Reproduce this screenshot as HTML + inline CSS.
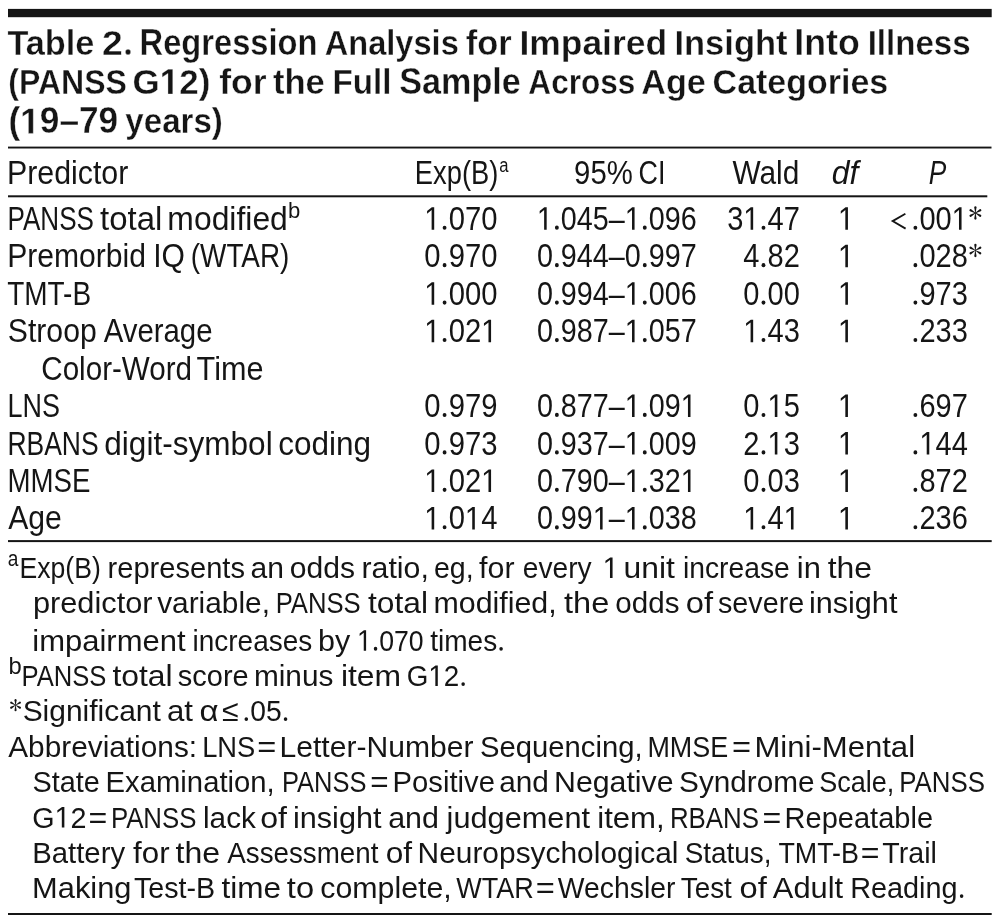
<!DOCTYPE html>
<html><head><meta charset="utf-8"><style>
html,body{margin:0;padding:0;background:#fff;}
body{width:999px;height:924px;overflow:hidden;}
svg{display:block;will-change:transform;}
text{font-family:"Liberation Sans",sans-serif;fill:#151515;}
</style></head><body>
<svg width="999" height="924" viewBox="0 0 999 924">
<rect x="8.0" y="8.9" width="983.70" height="8.30" fill="#151515"/>
<rect x="8.0" y="146.6" width="983.50" height="1.90" fill="#151515"/>
<rect x="8.0" y="195.3" width="979.30" height="2.00" fill="#151515"/>
<rect x="8.0" y="540.1" width="983.70" height="2.00" fill="#151515"/>
<rect x="8.0" y="913.0" width="983.70" height="2.00" fill="#151515"/>
<text transform="translate(7.40 54.80) scale(0.9527 1)" font-size="36.0" font-weight="bold" stroke="#fff" stroke-width="0.35">Table</text>
<g transform="translate(102.12 54.80) scale(1.0369 1)"><text font-size="36.0" font-weight="bold" stroke="#fff" stroke-width="0.35">2 </text><path transform="scale(0.017578 -0.017578)" fill="#151515" stroke="#fff" stroke-width="19.9" d="M1275.6,160 a146.6,160 0 1 0 293.2,0 a146.6,160 0 1 0 -293.2,0 Z"/></g>
<text transform="translate(139.59 54.80) scale(0.9072 1)" font-size="36.0" font-weight="bold" stroke="#fff" stroke-width="0.35">Regression</text>
<text transform="translate(324.72 54.80) scale(0.9055 1)" font-size="36.0" font-weight="bold" stroke="#fff" stroke-width="0.35">Analysis</text>
<text transform="translate(465.70 54.80) scale(0.9576 1)" font-size="36.0" font-weight="bold" stroke="#fff" stroke-width="0.35">for</text>
<text transform="translate(519.38 54.80) scale(0.9846 1)" font-size="36.0" font-weight="bold" stroke="#fff" stroke-width="0.35">Impaired</text>
<text transform="translate(674.45 54.80) scale(0.9587 1)" font-size="36.0" font-weight="bold" stroke="#fff" stroke-width="0.35">Insight</text>
<text transform="translate(794.36 54.80) scale(0.9925 1)" font-size="36.0" font-weight="bold" stroke="#fff" stroke-width="0.35">Into</text>
<text transform="translate(867.66 54.80) scale(0.9188 1)" font-size="36.0" font-weight="bold" stroke="#fff" stroke-width="0.35">Illness</text>
<text transform="translate(8.24 94.00) scale(0.8901 1)" font-size="36.0" font-weight="bold" stroke="#fff" stroke-width="0.35">(PANSS</text>
<g transform="translate(132.57 94.00) scale(0.9719 1)"><text font-size="36.0" font-weight="bold" stroke="#fff" stroke-width="0.35">G 2)</text><path transform="scale(0.017578 -0.017578)" fill="#151515" stroke="#fff" stroke-width="19.9" d="M2070.9,0 L2070.9,1170 L1732.9,959 L1732.9,1180 L2085.9,1409 L2351.9,1409 L2351.9,0 Z"/></g>
<text transform="translate(219.27 94.00) scale(0.9877 1)" font-size="36.0" font-weight="bold" stroke="#fff" stroke-width="0.35">for</text>
<text transform="translate(272.89 94.00) scale(0.9610 1)" font-size="36.0" font-weight="bold" stroke="#fff" stroke-width="0.35">the</text>
<text transform="translate(332.55 94.00) scale(0.9213 1)" font-size="36.0" font-weight="bold" stroke="#fff" stroke-width="0.35">Full</text>
<text transform="translate(399.15 94.00) scale(0.9501 1)" font-size="36.0" font-weight="bold" stroke="#fff" stroke-width="0.35">Sample</text>
<text transform="translate(528.37 94.00) scale(0.8763 1)" font-size="36.0" font-weight="bold" stroke="#fff" stroke-width="0.35">Across</text>
<text transform="translate(641.24 94.00) scale(0.9489 1)" font-size="36.0" font-weight="bold" stroke="#fff" stroke-width="0.35">Age</text>
<text transform="translate(712.62 94.00) scale(0.9440 1)" font-size="36.0" font-weight="bold" stroke="#fff" stroke-width="0.35">Categories</text>
<g transform="translate(8.47 133.40) scale(0.9788 1)"><text font-size="36.0" font-weight="bold" stroke="#fff" stroke-width="0.35">( 9–79</text><path transform="scale(0.017578 -0.017578)" fill="#151515" stroke="#fff" stroke-width="19.9" d="M1159.8,0 L1159.8,1170 L821.8,959 L821.8,1180 L1174.8,1409 L1440.8,1409 L1440.8,0 Z"/></g>
<text transform="translate(125.32 133.40) scale(0.9198 1)" font-size="36.0" font-weight="bold" stroke="#fff" stroke-width="0.35">years)</text>
<text transform="translate(7.01 184.00) scale(0.9306 1)" font-size="32.6">Predictor</text>
<text transform="translate(414.86 184.00) scale(0.8379 1)" font-size="32.6">Exp(B)</text>
<text transform="translate(499.17 171.80) scale(0.8535 1)" font-size="19.5">a</text>
<text transform="translate(574.08 184.00) scale(0.8996 1)" font-size="32.6">95%</text>
<text transform="translate(638.53 184.00) scale(0.8251 1)" font-size="32.6">CI</text>
<text transform="translate(732.43 184.00) scale(0.9163 1)" font-size="32.6">Wald</text>
<text transform="translate(831.81 184.00) scale(0.9783 1)" font-size="32.6" font-style="italic">df</text>
<text transform="translate(928.75 184.00) scale(0.8063 1)" font-size="32.6" font-style="italic">P</text>
<text transform="translate(7.46 229.80) scale(0.8005 1)" font-size="32.6">PANSS</text>
<text transform="translate(100.11 229.80) scale(1.0098 1)" font-size="32.6">total</text>
<text transform="translate(167.37 229.80) scale(0.9778 1)" font-size="32.6">modified</text>
<text transform="translate(288.00 217.80) scale(0.9835 1)" font-size="22.5">b</text>
<text transform="translate(7.13 267.25) scale(0.9237 1)" font-size="32.6">Premorbid</text>
<text transform="translate(153.23 267.25) scale(0.9218 1)" font-size="32.6">IQ</text>
<text transform="translate(190.78 267.25) scale(0.8555 1)" font-size="32.6">(WTAR)</text>
<text transform="translate(7.17 304.70) scale(0.8579 1)" font-size="32.6">TMT-B</text>
<text transform="translate(7.78 342.15) scale(0.9263 1)" font-size="32.6">Stroop</text>
<text transform="translate(103.66 342.15) scale(0.9014 1)" font-size="32.6">Average</text>
<text transform="translate(41.27 379.60) scale(0.9088 1)" font-size="32.6">Color-Word</text>
<text transform="translate(196.61 379.60) scale(0.9392 1)" font-size="32.6">Time</text>
<text transform="translate(7.59 417.05) scale(0.8268 1)" font-size="32.6">LNS</text>
<text transform="translate(7.43 454.50) scale(0.8127 1)" font-size="32.6">RBANS</text>
<text transform="translate(104.29 454.50) scale(0.9683 1)" font-size="32.6">digit-symbol</text>
<text transform="translate(278.27 454.50) scale(0.9670 1)" font-size="32.6">coding</text>
<text transform="translate(7.53 491.95) scale(0.8486 1)" font-size="32.6">MMSE</text>
<text transform="translate(8.24 529.40) scale(0.9246 1)" font-size="32.6">Age</text>
<text transform="translate(7.71 565.80) scale(0.8511 1)" font-size="22.5">a</text>
<text transform="translate(19.42 578.00) scale(0.8935 1)" font-size="29.8">Exp(B)</text>
<text transform="translate(107.58 578.00) scale(0.9765 1)" font-size="29.8">represents</text>
<text transform="translate(250.62 578.00) scale(1.0090 1)" font-size="29.8">an</text>
<text transform="translate(289.85 578.00) scale(1.0092 1)" font-size="29.8">odds</text>
<text transform="translate(361.50 578.00) scale(1.0171 1)" font-size="29.8">ratio,</text>
<text transform="translate(433.94 578.00) scale(0.9587 1)" font-size="29.8">eg,</text>
<text transform="translate(479.12 578.00) scale(1.0205 1)" font-size="29.8">for</text>
<text transform="translate(522.76 578.00) scale(0.9457 1)" font-size="29.8">every</text>
<g transform="translate(602.64 578.00) scale(0.9800 1)"><text font-size="29.8"> </text><path transform="scale(0.014551 -0.014551)" fill="#151515" d="M515.0,0 L515.0,1237 L197.0,1010 L197.0,1180 L530.0,1409 L696.0,1409 L696.0,0 Z"/></g>
<text transform="translate(623.51 578.00) scale(1.0687 1)" font-size="29.8">unit</text>
<text transform="translate(682.90 578.00) scale(0.9493 1)" font-size="29.8">increase</text>
<text transform="translate(796.83 578.00) scale(1.0365 1)" font-size="29.8">in</text>
<text transform="translate(827.63 578.00) scale(1.0721 1)" font-size="29.8">the</text>
<text transform="translate(32.94 612.70) scale(1.0315 1)" font-size="29.8">predictor</text>
<text transform="translate(157.16 612.70) scale(1.0017 1)" font-size="29.8">variable,</text>
<text transform="translate(275.66 612.70) scale(0.8606 1)" font-size="29.8">PANSS</text>
<text transform="translate(368.03 612.70) scale(1.0661 1)" font-size="29.8">total</text>
<text transform="translate(433.49 612.70) scale(1.0193 1)" font-size="29.8">modified,</text>
<text transform="translate(564.01 612.70) scale(1.0929 1)" font-size="29.8">the</text>
<text transform="translate(615.28 612.70) scale(0.9930 1)" font-size="29.8">odds</text>
<text transform="translate(685.79 612.70) scale(1.0994 1)" font-size="29.8">of</text>
<text transform="translate(717.97 612.70) scale(0.9645 1)" font-size="29.8">severe</text>
<text transform="translate(808.95 612.70) scale(1.0273 1)" font-size="29.8">insight</text>
<text transform="translate(32.32 650.70) scale(1.0401 1)" font-size="29.8">impairment</text>
<text transform="translate(192.52 650.70) scale(0.9391 1)" font-size="29.8">increases</text>
<text transform="translate(317.95 650.70) scale(1.0241 1)" font-size="29.8">by</text>
<g transform="translate(357.05 650.70) scale(0.8938 1)"><text font-size="29.8">  070</text><path transform="scale(0.014551 -0.014551)" fill="#151515" d="M515.0,0 L515.0,1237 L197.0,1010 L197.0,1180 L530.0,1409 L696.0,1409 L696.0,0 Z M1286.7,132 a136.1,128 0 1 0 272.1,0 a136.1,128 0 1 0 -272.1,0 Z"/></g>
<g transform="translate(430.14 650.70) scale(0.9419 1)"><text font-size="29.8">times </text><path transform="scale(0.014551 -0.014551)" fill="#151515" d="M5047.7,132 a129.1,128 0 1 0 258.2,0 a129.1,128 0 1 0 -258.2,0 Z"/></g>
<text transform="translate(8.40 673.70) scale(1.0117 1)" font-size="23.5">b</text>
<text transform="translate(21.50 686.00) scale(0.8597 1)" font-size="29.8">PANSS</text>
<text transform="translate(112.41 686.00) scale(1.0705 1)" font-size="29.8">total</text>
<text transform="translate(177.85 686.00) scale(0.9726 1)" font-size="29.8">score</text>
<text transform="translate(253.93 686.00) scale(1.0001 1)" font-size="29.8">minus</text>
<text transform="translate(340.88 686.00) scale(1.0705 1)" font-size="29.8">item</text>
<g transform="translate(406.70 686.00) scale(0.9338 1)"><text font-size="29.8">G 2 </text><path transform="scale(0.014551 -0.014551)" fill="#151515" d="M2107.5,0 L2107.5,1237 L1789.5,1010 L1789.5,1180 L2122.5,1409 L2288.5,1409 L2288.5,0 Z M4024.3,132 a130.2,128 0 1 0 260.4,0 a130.2,128 0 1 0 -260.4,0 Z"/></g>
<text transform="translate(22.64 721.00) scale(1.0050 1)" font-size="29.8">Significant</text>
<text transform="translate(166.95 721.00) scale(1.0470 1)" font-size="29.8">at</text>
<text transform="translate(199.55 721.00) scale(1.1072 1)" font-size="29.8">α</text>
<text transform="translate(222.03 721.00) scale(1.0166 1)" font-size="29.8">≤</text>
<g transform="translate(242.37 721.00) scale(0.9481 1)"><text font-size="29.8"> 05 </text><path transform="scale(0.014551 -0.014551)" fill="#151515" d="M156.2,132 a128.3,128 0 1 0 256.5,0 a128.3,128 0 1 0 -256.5,0 Z M3001.9,132 a128.3,128 0 1 0 256.5,0 a128.3,128 0 1 0 -256.5,0 Z"/></g>
<text transform="translate(8.18 757.00) scale(1.0009 1)" font-size="29.8">Abbreviations:</text>
<text transform="translate(202.16 757.00) scale(0.9165 1)" font-size="29.8">LNS</text>
<text transform="translate(257.18 757.00) scale(1.0953 1)" font-size="29.8">=</text>
<text transform="translate(279.53 757.00) scale(1.0094 1)" font-size="29.8">Letter-Number</text>
<text transform="translate(480.09 757.00) scale(0.9808 1)" font-size="29.8">Sequencing,</text>
<text transform="translate(647.39 757.00) scale(0.9043 1)" font-size="29.8">MMSE</text>
<text transform="translate(732.08 757.00) scale(1.0953 1)" font-size="29.8">=</text>
<text transform="translate(754.45 757.00) scale(1.0434 1)" font-size="29.8">Mini-Mental</text>
<text transform="translate(32.51 791.90) scale(0.9685 1)" font-size="29.8">State</text>
<text transform="translate(105.60 791.90) scale(0.9822 1)" font-size="29.8">Examination,</text>
<text transform="translate(281.91 791.90) scale(0.8555 1)" font-size="29.8">PANSS</text>
<text transform="translate(370.13 791.90) scale(1.0555 1)" font-size="29.8">=</text>
<text transform="translate(392.60 791.90) scale(0.9810 1)" font-size="29.8">Positive</text>
<text transform="translate(499.23 791.90) scale(0.9994 1)" font-size="29.8">and</text>
<text transform="translate(554.01 791.90) scale(1.0169 1)" font-size="29.8">Negative</text>
<text transform="translate(679.05 791.90) scale(0.9989 1)" font-size="29.8">Syndrome</text>
<text transform="translate(819.13 791.90) scale(0.9065 1)" font-size="29.8">Scale,</text>
<text transform="translate(899.28 791.90) scale(0.8671 1)" font-size="29.8">PANSS</text>
<g transform="translate(32.25 827.50) scale(0.9643 1)"><text font-size="29.8">G 2</text><path transform="scale(0.014551 -0.014551)" fill="#151515" d="M2107.5,0 L2107.5,1237 L1789.5,1010 L1789.5,1180 L2122.5,1409 L2288.5,1409 L2288.5,0 Z"/></g>
<text transform="translate(88.62 827.50) scale(1.0790 1)" font-size="29.8">=</text>
<text transform="translate(110.88 827.50) scale(0.8661 1)" font-size="29.8">PANSS</text>
<text transform="translate(203.01 827.50) scale(0.9972 1)" font-size="29.8">lack</text>
<text transform="translate(260.21 827.50) scale(1.0790 1)" font-size="29.8">of</text>
<text transform="translate(292.94 827.50) scale(1.0285 1)" font-size="29.8">insight</text>
<text transform="translate(388.19 827.50) scale(1.0211 1)" font-size="29.8">and</text>
<text transform="translate(446.62 827.50) scale(1.0308 1)" font-size="29.8">judgement</text>
<text transform="translate(597.21 827.50) scale(1.0461 1)" font-size="29.8">item,</text>
<text transform="translate(669.88 827.50) scale(0.8682 1)" font-size="29.8">RBANS</text>
<text transform="translate(762.42 827.50) scale(1.0790 1)" font-size="29.8">=</text>
<text transform="translate(784.62 827.50) scale(0.9737 1)" font-size="29.8">Repeatable</text>
<text transform="translate(32.20 862.70) scale(0.9838 1)" font-size="29.8">Battery</text>
<text transform="translate(133.10 862.70) scale(1.0505 1)" font-size="29.8">for</text>
<text transform="translate(175.60 862.70) scale(1.0758 1)" font-size="29.8">the</text>
<text transform="translate(227.23 862.70) scale(0.9319 1)" font-size="29.8">Assessment</text>
<text transform="translate(385.76 862.70) scale(1.0603 1)" font-size="29.8">of</text>
<text transform="translate(417.55 862.70) scale(1.0040 1)" font-size="29.8">Neuropsychological</text>
<text transform="translate(684.68 862.70) scale(0.9364 1)" font-size="29.8">Status,</text>
<text transform="translate(778.40 862.70) scale(0.9017 1)" font-size="29.8">TMT-B</text>
<text transform="translate(860.85 862.70) scale(1.0758 1)" font-size="29.8">=</text>
<text transform="translate(882.36 862.70) scale(0.9597 1)" font-size="29.8">Trail</text>
<text transform="translate(32.07 898.00) scale(1.0348 1)" font-size="29.8">Making</text>
<text transform="translate(133.96 898.00) scale(0.9619 1)" font-size="29.8">Test-B</text>
<text transform="translate(221.44 898.00) scale(1.0593 1)" font-size="29.8">time</text>
<text transform="translate(286.81 898.00) scale(1.0954 1)" font-size="29.8">to</text>
<text transform="translate(320.29 898.00) scale(1.0182 1)" font-size="29.8">complete,</text>
<text transform="translate(456.24 898.00) scale(0.9066 1)" font-size="29.8">WTAR</text>
<text transform="translate(535.78 898.00) scale(1.0954 1)" font-size="29.8">=</text>
<text transform="translate(557.80 898.00) scale(0.9515 1)" font-size="29.8">Wechsler</text>
<text transform="translate(680.77 898.00) scale(0.9345 1)" font-size="29.8">Test</text>
<text transform="translate(739.50 898.00) scale(1.0954 1)" font-size="29.8">of</text>
<text transform="translate(772.85 898.00) scale(1.0360 1)" font-size="29.8">Adult</text>
<g transform="translate(850.13 898.00) scale(0.9684 1)"><text font-size="29.8">Reading </text><path transform="scale(0.014551 -0.014551)" fill="#151515" d="M7786.3,132 a125.6,128 0 1 0 251.1,0 a125.6,128 0 1 0 -251.1,0 Z"/></g>
<g transform="translate(424.27 229.80) scale(0.8969 1)"><text font-size="32.6">  070</text><path transform="scale(0.015918 -0.015918)" fill="#151515" d="M515.0,0 L515.0,1237 L197.0,1010 L197.0,1180 L530.0,1409 L696.0,1409 L696.0,0 Z M1286.6,132 a135.6,128 0 1 0 271.2,0 a135.6,128 0 1 0 -271.2,0 Z"/></g>
<g transform="translate(424.27 267.25) scale(0.8969 1)"><text font-size="32.6">0 970</text><path transform="scale(0.015918 -0.015918)" fill="#151515" d="M1286.6,132 a135.6,128 0 1 0 271.2,0 a135.6,128 0 1 0 -271.2,0 Z"/></g>
<g transform="translate(424.27 304.70) scale(0.8969 1)"><text font-size="32.6">  000</text><path transform="scale(0.015918 -0.015918)" fill="#151515" d="M515.0,0 L515.0,1237 L197.0,1010 L197.0,1180 L530.0,1409 L696.0,1409 L696.0,0 Z M1286.6,132 a135.6,128 0 1 0 271.2,0 a135.6,128 0 1 0 -271.2,0 Z"/></g>
<g transform="translate(424.27 342.15) scale(0.8969 1)"><text font-size="32.6">  02 </text><path transform="scale(0.015918 -0.015918)" fill="#151515" d="M515.0,0 L515.0,1237 L197.0,1010 L197.0,1180 L530.0,1409 L696.0,1409 L696.0,0 Z M1286.6,132 a135.6,128 0 1 0 271.2,0 a135.6,128 0 1 0 -271.2,0 Z M4498.3,0 L4498.3,1237 L4180.3,1010 L4180.3,1180 L4513.3,1409 L4679.3,1409 L4679.3,0 Z"/></g>
<g transform="translate(424.27 417.05) scale(0.8969 1)"><text font-size="32.6">0 979</text><path transform="scale(0.015918 -0.015918)" fill="#151515" d="M1286.6,132 a135.6,128 0 1 0 271.2,0 a135.6,128 0 1 0 -271.2,0 Z"/></g>
<g transform="translate(424.27 454.50) scale(0.8969 1)"><text font-size="32.6">0 973</text><path transform="scale(0.015918 -0.015918)" fill="#151515" d="M1286.6,132 a135.6,128 0 1 0 271.2,0 a135.6,128 0 1 0 -271.2,0 Z"/></g>
<g transform="translate(424.27 491.95) scale(0.8969 1)"><text font-size="32.6">  02 </text><path transform="scale(0.015918 -0.015918)" fill="#151515" d="M515.0,0 L515.0,1237 L197.0,1010 L197.0,1180 L530.0,1409 L696.0,1409 L696.0,0 Z M1286.6,132 a135.6,128 0 1 0 271.2,0 a135.6,128 0 1 0 -271.2,0 Z M4498.3,0 L4498.3,1237 L4180.3,1010 L4180.3,1180 L4513.3,1409 L4679.3,1409 L4679.3,0 Z"/></g>
<g transform="translate(424.27 529.40) scale(0.8969 1)"><text font-size="32.6">  0 4</text><path transform="scale(0.015918 -0.015918)" fill="#151515" d="M515.0,0 L515.0,1237 L197.0,1010 L197.0,1180 L530.0,1409 L696.0,1409 L696.0,0 Z M1286.6,132 a135.6,128 0 1 0 271.2,0 a135.6,128 0 1 0 -271.2,0 Z M3359.7,0 L3359.7,1237 L3041.7,1010 L3041.7,1180 L3374.7,1409 L3540.7,1409 L3540.7,0 Z"/></g>
<g transform="translate(536.90 229.80) scale(0.8821 1)"><text font-size="32.6">  045–  096</text><path transform="scale(0.015918 -0.015918)" fill="#151515" d="M515.0,0 L515.0,1237 L197.0,1010 L197.0,1180 L530.0,1409 L696.0,1409 L696.0,0 Z M1284.3,132 a137.9,128 0 1 0 275.7,0 a137.9,128 0 1 0 -275.7,0 Z M6774.6,0 L6774.6,1237 L6456.6,1010 L6456.6,1180 L6789.6,1409 L6955.6,1409 L6955.6,0 Z M7543.9,132 a137.9,128 0 1 0 275.7,0 a137.9,128 0 1 0 -275.7,0 Z"/></g>
<g transform="translate(536.90 267.25) scale(0.8821 1)"><text font-size="32.6">0 944–0 997</text><path transform="scale(0.015918 -0.015918)" fill="#151515" d="M1284.3,132 a137.9,128 0 1 0 275.7,0 a137.9,128 0 1 0 -275.7,0 Z M7543.9,132 a137.9,128 0 1 0 275.7,0 a137.9,128 0 1 0 -275.7,0 Z"/></g>
<g transform="translate(536.90 304.70) scale(0.8821 1)"><text font-size="32.6">0 994–  006</text><path transform="scale(0.015918 -0.015918)" fill="#151515" d="M1284.3,132 a137.9,128 0 1 0 275.7,0 a137.9,128 0 1 0 -275.7,0 Z M6774.6,0 L6774.6,1237 L6456.6,1010 L6456.6,1180 L6789.6,1409 L6955.6,1409 L6955.6,0 Z M7543.9,132 a137.9,128 0 1 0 275.7,0 a137.9,128 0 1 0 -275.7,0 Z"/></g>
<g transform="translate(536.90 342.15) scale(0.8821 1)"><text font-size="32.6">0 987–  057</text><path transform="scale(0.015918 -0.015918)" fill="#151515" d="M1284.3,132 a137.9,128 0 1 0 275.7,0 a137.9,128 0 1 0 -275.7,0 Z M6774.6,0 L6774.6,1237 L6456.6,1010 L6456.6,1180 L6789.6,1409 L6955.6,1409 L6955.6,0 Z M7543.9,132 a137.9,128 0 1 0 275.7,0 a137.9,128 0 1 0 -275.7,0 Z"/></g>
<g transform="translate(536.90 417.05) scale(0.8821 1)"><text font-size="32.6">0 877–  09 </text><path transform="scale(0.015918 -0.015918)" fill="#151515" d="M1284.3,132 a137.9,128 0 1 0 275.7,0 a137.9,128 0 1 0 -275.7,0 Z M6774.6,0 L6774.6,1237 L6456.6,1010 L6456.6,1180 L6789.6,1409 L6955.6,1409 L6955.6,0 Z M7543.9,132 a137.9,128 0 1 0 275.7,0 a137.9,128 0 1 0 -275.7,0 Z M10757.9,0 L10757.9,1237 L10439.9,1010 L10439.9,1180 L10772.9,1409 L10938.9,1409 L10938.9,0 Z"/></g>
<g transform="translate(536.90 454.50) scale(0.8821 1)"><text font-size="32.6">0 937–  009</text><path transform="scale(0.015918 -0.015918)" fill="#151515" d="M1284.3,132 a137.9,128 0 1 0 275.7,0 a137.9,128 0 1 0 -275.7,0 Z M6774.6,0 L6774.6,1237 L6456.6,1010 L6456.6,1180 L6789.6,1409 L6955.6,1409 L6955.6,0 Z M7543.9,132 a137.9,128 0 1 0 275.7,0 a137.9,128 0 1 0 -275.7,0 Z"/></g>
<g transform="translate(536.90 491.95) scale(0.8821 1)"><text font-size="32.6">0 790–  32 </text><path transform="scale(0.015918 -0.015918)" fill="#151515" d="M1284.3,132 a137.9,128 0 1 0 275.7,0 a137.9,128 0 1 0 -275.7,0 Z M6774.6,0 L6774.6,1237 L6456.6,1010 L6456.6,1180 L6789.6,1409 L6955.6,1409 L6955.6,0 Z M7543.9,132 a137.9,128 0 1 0 275.7,0 a137.9,128 0 1 0 -275.7,0 Z M10757.9,0 L10757.9,1237 L10439.9,1010 L10439.9,1180 L10772.9,1409 L10938.9,1409 L10938.9,0 Z"/></g>
<g transform="translate(536.90 529.40) scale(0.8821 1)"><text font-size="32.6">0 99 –  038</text><path transform="scale(0.015918 -0.015918)" fill="#151515" d="M1284.3,132 a137.9,128 0 1 0 275.7,0 a137.9,128 0 1 0 -275.7,0 Z M4498.3,0 L4498.3,1237 L4180.3,1010 L4180.3,1180 L4513.3,1409 L4679.3,1409 L4679.3,0 Z M6774.6,0 L6774.6,1237 L6456.6,1010 L6456.6,1180 L6789.6,1409 L6955.6,1409 L6955.6,0 Z M7543.9,132 a137.9,128 0 1 0 275.7,0 a137.9,128 0 1 0 -275.7,0 Z"/></g>
<g transform="translate(727.15 229.80) scale(0.8913 1)"><text font-size="32.6">3  47</text><path transform="scale(0.015918 -0.015918)" fill="#151515" d="M1652.7,0 L1652.7,1237 L1334.7,1010 L1334.7,1180 L1667.7,1409 L1833.7,1409 L1833.7,0 Z M2424.4,132 a136.4,128 0 1 0 272.9,0 a136.4,128 0 1 0 -272.9,0 Z"/></g>
<g transform="translate(743.29 267.25) scale(0.8913 1)"><text font-size="32.6">4 82</text><path transform="scale(0.015918 -0.015918)" fill="#151515" d="M1285.7,132 a136.4,128 0 1 0 272.9,0 a136.4,128 0 1 0 -272.9,0 Z"/></g>
<g transform="translate(743.29 304.70) scale(0.8913 1)"><text font-size="32.6">0 00</text><path transform="scale(0.015918 -0.015918)" fill="#151515" d="M1285.7,132 a136.4,128 0 1 0 272.9,0 a136.4,128 0 1 0 -272.9,0 Z"/></g>
<g transform="translate(743.29 342.15) scale(0.8913 1)"><text font-size="32.6">  43</text><path transform="scale(0.015918 -0.015918)" fill="#151515" d="M515.0,0 L515.0,1237 L197.0,1010 L197.0,1180 L530.0,1409 L696.0,1409 L696.0,0 Z M1285.7,132 a136.4,128 0 1 0 272.9,0 a136.4,128 0 1 0 -272.9,0 Z"/></g>
<g transform="translate(743.29 417.05) scale(0.8913 1)"><text font-size="32.6">0  5</text><path transform="scale(0.015918 -0.015918)" fill="#151515" d="M1285.7,132 a136.4,128 0 1 0 272.9,0 a136.4,128 0 1 0 -272.9,0 Z M2221.0,0 L2221.0,1237 L1903.0,1010 L1903.0,1180 L2236.0,1409 L2402.0,1409 L2402.0,0 Z"/></g>
<g transform="translate(743.29 454.50) scale(0.8913 1)"><text font-size="32.6">2  3</text><path transform="scale(0.015918 -0.015918)" fill="#151515" d="M1285.7,132 a136.4,128 0 1 0 272.9,0 a136.4,128 0 1 0 -272.9,0 Z M2221.0,0 L2221.0,1237 L1903.0,1010 L1903.0,1180 L2236.0,1409 L2402.0,1409 L2402.0,0 Z"/></g>
<g transform="translate(743.29 491.95) scale(0.8913 1)"><text font-size="32.6">0 03</text><path transform="scale(0.015918 -0.015918)" fill="#151515" d="M1285.7,132 a136.4,128 0 1 0 272.9,0 a136.4,128 0 1 0 -272.9,0 Z"/></g>
<g transform="translate(743.29 529.40) scale(0.8913 1)"><text font-size="32.6">  4 </text><path transform="scale(0.015918 -0.015918)" fill="#151515" d="M515.0,0 L515.0,1237 L197.0,1010 L197.0,1180 L530.0,1409 L696.0,1409 L696.0,0 Z M1285.7,132 a136.4,128 0 1 0 272.9,0 a136.4,128 0 1 0 -272.9,0 Z M3359.7,0 L3359.7,1237 L3041.7,1010 L3041.7,1180 L3374.7,1409 L3540.7,1409 L3540.7,0 Z"/></g>
<g transform="translate(837.96 229.80) scale(0.9000 1)"><text font-size="32.6"> </text><path transform="scale(0.015918 -0.015918)" fill="#151515" d="M515.0,0 L515.0,1237 L197.0,1010 L197.0,1180 L530.0,1409 L696.0,1409 L696.0,0 Z"/></g>
<g transform="translate(837.96 267.25) scale(0.9000 1)"><text font-size="32.6"> </text><path transform="scale(0.015918 -0.015918)" fill="#151515" d="M515.0,0 L515.0,1237 L197.0,1010 L197.0,1180 L530.0,1409 L696.0,1409 L696.0,0 Z"/></g>
<g transform="translate(837.96 304.70) scale(0.9000 1)"><text font-size="32.6"> </text><path transform="scale(0.015918 -0.015918)" fill="#151515" d="M515.0,0 L515.0,1237 L197.0,1010 L197.0,1180 L530.0,1409 L696.0,1409 L696.0,0 Z"/></g>
<g transform="translate(837.96 342.15) scale(0.9000 1)"><text font-size="32.6"> </text><path transform="scale(0.015918 -0.015918)" fill="#151515" d="M515.0,0 L515.0,1237 L197.0,1010 L197.0,1180 L530.0,1409 L696.0,1409 L696.0,0 Z"/></g>
<g transform="translate(837.96 417.05) scale(0.9000 1)"><text font-size="32.6"> </text><path transform="scale(0.015918 -0.015918)" fill="#151515" d="M515.0,0 L515.0,1237 L197.0,1010 L197.0,1180 L530.0,1409 L696.0,1409 L696.0,0 Z"/></g>
<g transform="translate(837.96 454.50) scale(0.9000 1)"><text font-size="32.6"> </text><path transform="scale(0.015918 -0.015918)" fill="#151515" d="M515.0,0 L515.0,1237 L197.0,1010 L197.0,1180 L530.0,1409 L696.0,1409 L696.0,0 Z"/></g>
<g transform="translate(837.96 491.95) scale(0.9000 1)"><text font-size="32.6"> </text><path transform="scale(0.015918 -0.015918)" fill="#151515" d="M515.0,0 L515.0,1237 L197.0,1010 L197.0,1180 L530.0,1409 L696.0,1409 L696.0,0 Z"/></g>
<g transform="translate(837.96 529.40) scale(0.9000 1)"><text font-size="32.6"> </text><path transform="scale(0.015918 -0.015918)" fill="#151515" d="M515.0,0 L515.0,1237 L197.0,1010 L197.0,1180 L530.0,1409 L696.0,1409 L696.0,0 Z"/></g>
<g transform="translate(911.35 229.80) scale(0.8907 1)"><text font-size="32.6"> 00 </text><path transform="scale(0.015918 -0.015918)" fill="#151515" d="M148.0,132 a136.5,128 0 1 0 273.0,0 a136.5,128 0 1 0 -273.0,0 Z M3359.7,0 L3359.7,1237 L3041.7,1010 L3041.7,1180 L3374.7,1409 L3540.7,1409 L3540.7,0 Z"/></g>
<g transform="translate(911.35 267.25) scale(0.8907 1)"><text font-size="32.6"> 028</text><path transform="scale(0.015918 -0.015918)" fill="#151515" d="M148.0,132 a136.5,128 0 1 0 273.0,0 a136.5,128 0 1 0 -273.0,0 Z"/></g>
<g transform="translate(911.35 304.70) scale(0.8907 1)"><text font-size="32.6"> 973</text><path transform="scale(0.015918 -0.015918)" fill="#151515" d="M148.0,132 a136.5,128 0 1 0 273.0,0 a136.5,128 0 1 0 -273.0,0 Z"/></g>
<g transform="translate(911.35 342.15) scale(0.8907 1)"><text font-size="32.6"> 233</text><path transform="scale(0.015918 -0.015918)" fill="#151515" d="M148.0,132 a136.5,128 0 1 0 273.0,0 a136.5,128 0 1 0 -273.0,0 Z"/></g>
<g transform="translate(911.35 417.05) scale(0.8907 1)"><text font-size="32.6"> 697</text><path transform="scale(0.015918 -0.015918)" fill="#151515" d="M148.0,132 a136.5,128 0 1 0 273.0,0 a136.5,128 0 1 0 -273.0,0 Z"/></g>
<g transform="translate(911.35 454.50) scale(0.8907 1)"><text font-size="32.6">  44</text><path transform="scale(0.015918 -0.015918)" fill="#151515" d="M148.0,132 a136.5,128 0 1 0 273.0,0 a136.5,128 0 1 0 -273.0,0 Z M1083.3,0 L1083.3,1237 L765.3,1010 L765.3,1180 L1098.3,1409 L1264.3,1409 L1264.3,0 Z"/></g>
<g transform="translate(911.35 491.95) scale(0.8907 1)"><text font-size="32.6"> 872</text><path transform="scale(0.015918 -0.015918)" fill="#151515" d="M148.0,132 a136.5,128 0 1 0 273.0,0 a136.5,128 0 1 0 -273.0,0 Z"/></g>
<g transform="translate(911.35 529.40) scale(0.8907 1)"><text font-size="32.6"> 236</text><path transform="scale(0.015918 -0.015918)" fill="#151515" d="M148.0,132 a136.5,128 0 1 0 273.0,0 a136.5,128 0 1 0 -273.0,0 Z"/></g>
<g transform="translate(975.40 213.00)" fill="#151515"><path transform="rotate(0)" d="M-0.20,0 L-1.14,-5.56 A1.14,1.14 0 0 1 1.14,-5.56 L0.20,0 Z"/><path transform="rotate(60)" d="M-0.20,0 L-1.14,-5.56 A1.14,1.14 0 0 1 1.14,-5.56 L0.20,0 Z"/><path transform="rotate(120)" d="M-0.20,0 L-1.14,-5.56 A1.14,1.14 0 0 1 1.14,-5.56 L0.20,0 Z"/><path transform="rotate(180)" d="M-0.20,0 L-1.14,-5.56 A1.14,1.14 0 0 1 1.14,-5.56 L0.20,0 Z"/><path transform="rotate(240)" d="M-0.20,0 L-1.14,-5.56 A1.14,1.14 0 0 1 1.14,-5.56 L0.20,0 Z"/><path transform="rotate(300)" d="M-0.20,0 L-1.14,-5.56 A1.14,1.14 0 0 1 1.14,-5.56 L0.20,0 Z"/><circle r="0.54"/></g>
<g transform="translate(975.40 250.45)" fill="#151515"><path transform="rotate(0)" d="M-0.20,0 L-1.14,-5.56 A1.14,1.14 0 0 1 1.14,-5.56 L0.20,0 Z"/><path transform="rotate(60)" d="M-0.20,0 L-1.14,-5.56 A1.14,1.14 0 0 1 1.14,-5.56 L0.20,0 Z"/><path transform="rotate(120)" d="M-0.20,0 L-1.14,-5.56 A1.14,1.14 0 0 1 1.14,-5.56 L0.20,0 Z"/><path transform="rotate(180)" d="M-0.20,0 L-1.14,-5.56 A1.14,1.14 0 0 1 1.14,-5.56 L0.20,0 Z"/><path transform="rotate(240)" d="M-0.20,0 L-1.14,-5.56 A1.14,1.14 0 0 1 1.14,-5.56 L0.20,0 Z"/><path transform="rotate(300)" d="M-0.20,0 L-1.14,-5.56 A1.14,1.14 0 0 1 1.14,-5.56 L0.20,0 Z"/><circle r="0.54"/></g>
<g transform="translate(15.55 705.20)" fill="#151515"><path transform="rotate(0)" d="M-0.18,0 L-1.04,-5.06 A1.04,1.04 0 0 1 1.04,-5.06 L0.18,0 Z"/><path transform="rotate(60)" d="M-0.18,0 L-1.04,-5.06 A1.04,1.04 0 0 1 1.04,-5.06 L0.18,0 Z"/><path transform="rotate(120)" d="M-0.18,0 L-1.04,-5.06 A1.04,1.04 0 0 1 1.04,-5.06 L0.18,0 Z"/><path transform="rotate(180)" d="M-0.18,0 L-1.04,-5.06 A1.04,1.04 0 0 1 1.04,-5.06 L0.18,0 Z"/><path transform="rotate(240)" d="M-0.18,0 L-1.04,-5.06 A1.04,1.04 0 0 1 1.04,-5.06 L0.18,0 Z"/><path transform="rotate(300)" d="M-0.18,0 L-1.04,-5.06 A1.04,1.04 0 0 1 1.04,-5.06 L0.18,0 Z"/><circle r="0.49"/></g>
<polyline points="905.40,213.70 892.60,221.10 905.60,228.60" fill="none" stroke="#151515" stroke-width="1.8"/>
</svg>
</body></html>
